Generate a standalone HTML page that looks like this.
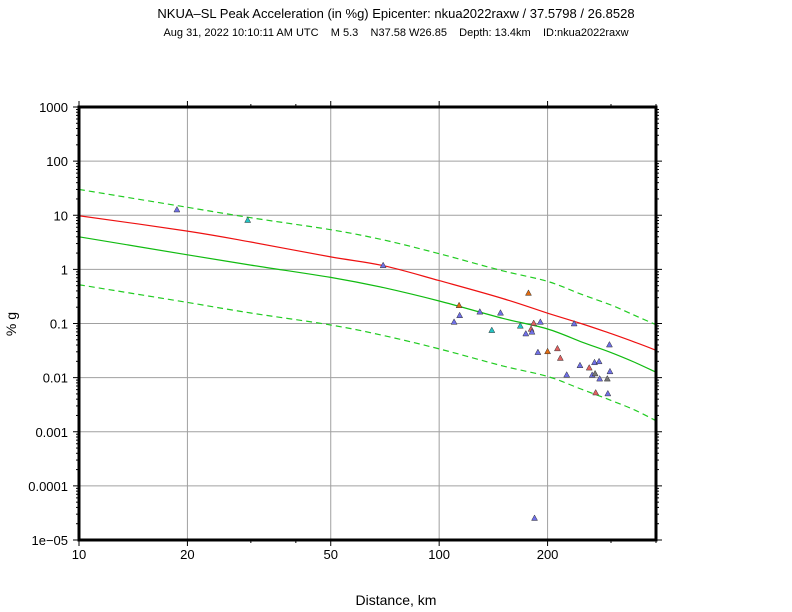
<!DOCTYPE html>
<html><head><meta charset="utf-8"><style>
body{margin:0;background:#fff;}
svg{display:block;font-family:"Liberation Sans",sans-serif;}
</style></head><body>
<svg id="chart" width="792" height="612" viewBox="0 0 792 612">
<text x="396" y="18" text-anchor="middle" font-size="13">NKUA–SL Peak Acceleration (in %g) Epicenter: nkua2022raxw / 37.5798 / 26.8528</text>
<text x="396" y="36" text-anchor="middle" font-size="11" style="white-space:pre">Aug 31, 2022 10:10:11 AM UTC    M 5.3    N37.58 W26.85    Depth: 13.4km    ID:nkua2022raxw</text>
<text x="396" y="605" text-anchor="middle" font-size="14">Distance, km</text>
<text x="0" y="0" transform="translate(16,324) rotate(-90)" text-anchor="middle" font-size="14">% g</text>
<g id="grid"></g><g id="lines"></g><g id="pts"></g><g id="axes"></g>
</svg>
<script>
const lineDist=[10,20,30,50,70,100,150,200,250,300,350,400];
const redVals=[9.8,5.1,3.2,1.7,1.17,0.62,0.29,0.155,0.098,0.065,0.045,0.032];
const greenVals=[4.0,1.86,1.2,0.71,0.46,0.26,0.125,0.079,0.045,0.029,0.019,0.0126];
const upperVals=[30,14,9,5.4,3.5,1.95,0.94,0.6,0.34,0.22,0.14,0.095];
const lowerVals=[0.52,0.245,0.156,0.094,0.06,0.034,0.0165,0.0105,0.006,0.0038,0.0025,0.0016];
const ptDist=[18.7,29.4,69.9,177,113.6,114,110,129.7,148,140,168,183,191,180,181,174,237,297,188,200,213,217,246,261,270,278,298,226,266,271,279,293,272,294,184];
const ptVals=[12.5,8,1.17,0.36,0.213,0.139,0.105,0.162,0.155,0.074,0.089,0.10,0.105,0.078,0.069,0.064,0.098,0.040,0.029,0.030,0.034,0.0226,0.0166,0.015,0.0188,0.0196,0.0128,0.0111,0.011,0.0117,0.0094,0.0094,0.0052,0.0050,0.000025];
const ptCols=['b','t','b','o','o','b','b','b','b','t','t','s','b','s','b','b','b','b','b','o','s','s','b','s','b','b','b','b','b','g','b','g','s','b','b'];
const yTicks=['1000','100','10','1','0.1','0.01','0.001','0.0001','1e−05'];
const yTickVals=[1000,100,10,1,0.1,0.01,0.001,0.0001,0.00001];
const xTickVals=[10,20,50,100,200];
const xTicks=['10','20','50','100','200'];
const L=79,R=656,T=107,B=540;
const xs=d=>L+(Math.log10(d)-1)*(R-L)/Math.log10(40);
const ys=v=>T+(3-Math.log10(v))*(B-T)/8;
const NS='http://www.w3.org/2000/svg';
function mk(tag,par,at){const e=document.createElementNS(NS,tag);for(const k in at)e.setAttribute(k,at[k]);document.getElementById(par).appendChild(e);return e;}
xTickVals.forEach((d,i)=>{const e=mk('line','grid',{x1:xs(d),x2:xs(d),y1:T,y2:B,stroke:'#a0a0a0','stroke-width':1});


const t=mk('text','axes',{x:xs(d),y:B+19,'text-anchor':'middle','font-size':13});t.textContent=xTicks[i];

});
yTickVals.forEach((v,i)=>{const e=mk('line','grid',{x1:L,x2:R,y1:ys(v),y2:ys(v),stroke:'#a0a0a0','stroke-width':1});


const t=mk('text','axes',{x:68,y:ys(v)+5,'text-anchor':'end','font-size':13});t.textContent=yTicks[i];

});
for(let dec=-5;dec<3;dec++){for(let m=1;m<10;m++){const v=m*Math.pow(10,dec);const y=ys(v);const len=m==1?6:3;
const a=mk('line','axes',{x1:L-len,x2:L,y1:y,y2:y,stroke:'#000'});
const b=mk('line','axes',{x1:R,x2:R+len,y1:y,y2:y,stroke:'#000'});}}
const y0=ys(1000);mk('line','axes',{x1:L-6,x2:L,y1:y0,y2:y0,stroke:'#000'});
[10,20,30,40,50,100,200,300,400].forEach(d=>{const big=[10,20,50,100,200].includes(d);const len=big?6:3;
const a=mk('line','axes',{x1:xs(d),x2:xs(d),y1:B,y2:B+len,stroke:'#000'});
const b=mk('line','axes',{x1:xs(d),x2:xs(d),y1:T-len,y2:T,stroke:'#000'});});
const fr=mk('rect','axes',{x:L,y:T,width:R-L,height:B-T,fill:'none',stroke:'#000','stroke-width':3});


function curve(vals,col,dash,name){
const P=lineDist.map((d,i)=>[xs(d),ys(vals[i])]);
let s=`M${P[0][0]},${P[0][1]}`;
for(let i=0;i<P.length-1;i++){const p0=P[i-1]||P[i],p1=P[i],p2=P[i+1],p3=P[i+2]||P[i+1];
const c1=[p1[0]+(p2[0]-p0[0])/6,p1[1]+(p2[1]-p0[1])/6],c2=[p2[0]-(p3[0]-p1[0])/6,p2[1]-(p3[1]-p1[1])/6];
s+=` C${c1[0].toFixed(1)},${c1[1].toFixed(1)} ${c2[0].toFixed(1)},${c2[1].toFixed(1)} ${p2[0].toFixed(1)},${p2[1].toFixed(1)}`;}
const p=mk('path','lines',{d:s,fill:'none',stroke:col,'stroke-width':1.2,'stroke-dasharray':dash});

}
curve(upperVals,'#22cc22','6,4','upper-sigma-line');
curve(lowerVals,'#22cc22','6,4','lower-sigma-line');
curve(greenVals,'#11bb11','none','median-gmpe-line');
curve(redVals,'#ee1111','none','adjusted-gmpe-line');
const C={b:'#6f6fe6',t:'#22c4c4',o:'#e06a10',s:'#e06060',g:'#777777'};
ptDist.forEach((d,i)=>{const x=xs(d),y=ys(ptVals[i]);
const p=mk('polygon','pts',{points:`${x},${y-3.5} ${x-3},${y+2} ${x+3},${y+2}`,fill:C[ptCols[i]],stroke:'#333','stroke-width':0.5});

});
</script>
</body></html>
